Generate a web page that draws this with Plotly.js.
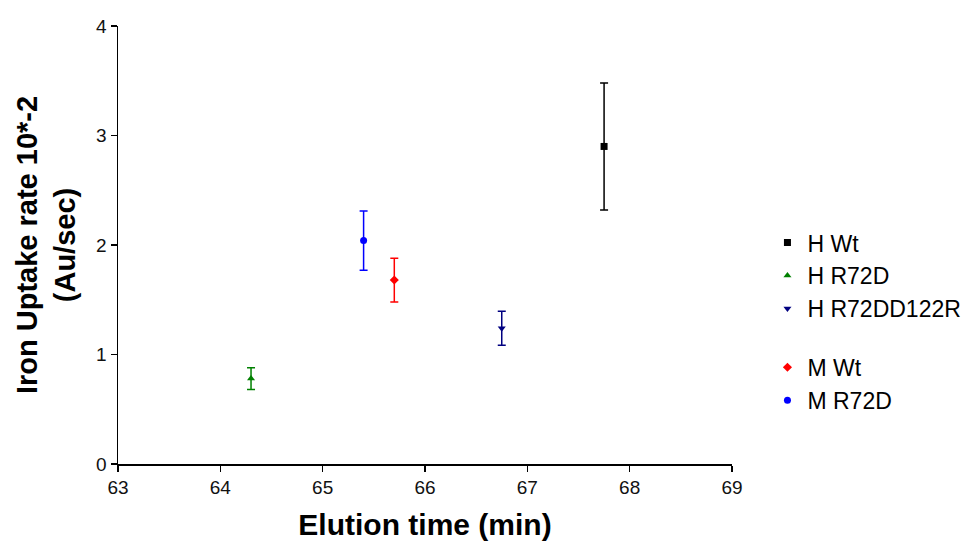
<!DOCTYPE html>
<html>
<head>
<meta charset="utf-8">
<script src="https://cdn.plot.ly/plotly-3.0.1.min.js"></script>
<style>html,body{margin:0;padding:0;background:#fff;}#chart{width:969px;height:546px;}</style>
</head>
<body>
<div id="chart"></div>
<script>
const seriesNames = ["H Wt", "H R72D", "H R72DD122R", "M Wt", "M R72D"];
const elutionTime = [67.75, 64.3, 66.75, 65.7, 65.4];
const uptakeRate = [2.90, 0.78, 1.24, 1.68, 2.04];
const uptakeErr = [0.58, 0.10, 0.155, 0.20, 0.27];
const seriesColors = ["#000000", "#008000", "#000080", "#ff0000", "#0000ff"];
const seriesSymbols = ["square", "triangle-up", "triangle-down", "diamond", "circle"];
const seriesGroups = ["H", "H", "H", "M", "M"];
const xTicks = [63, 64, 65, 66, 67, 68, 69];
const yTicks = [0, 1, 2, 3, 4];

const traces = seriesNames.map((n, i) => ({
  type: "scatter",
  mode: "markers",
  name: n,
  legendgroup: seriesGroups[i],
  x: [elutionTime[i]],
  y: [uptakeRate[i]],
  marker: {color: seriesColors[i], symbol: seriesSymbols[i], size: 7},
  error_y: {type: "data", array: [uptakeErr[i]], visible: true, color: seriesColors[i], thickness: 1.5, width: 4}
}));

const layout = {
  width: 969, height: 546,
  margin: {l: 118, r: 237, t: 26, b: 82},
  paper_bgcolor: "#fff", plot_bgcolor: "#fff",
  font: {family: "Arial, Liberation Sans, sans-serif", color: "#000"},
  xaxis: {
    range: [63, 69], tickvals: xTicks, ticktext: xTicks.map(String),
    showgrid: false, zeroline: false, showline: true, linecolor: "#000", linewidth: 1.5,
    ticks: "outside", ticklen: 6, tickwidth: 1.5, tickcolor: "#000",
    tickfont: {size: 19, color: "#111"},
    title: {text: "<b>Elution time (min)</b>", font: {size: 30, color: "#000"}, standoff: 16}
  },
  yaxis: {
    range: [0, 4], tickvals: yTicks, ticktext: yTicks.map(String),
    showgrid: false, zeroline: false, showline: true, linecolor: "#000", linewidth: 1.5,
    ticks: "outside", ticklen: 6, tickwidth: 1.5, tickcolor: "#000",
    tickfont: {size: 19, color: "#111"},
    title: {text: "<b>Iron Uptake rate 10*-2<br>(Au/sec)</b>", font: {size: 29, color: "#000"}, standoff: 12}
  },
  showlegend: true,
  legend: {
    xref: "container", yref: "container",
    x: 0.792, xanchor: "left", y: 0.595, yanchor: "top",
    font: {size: 23, color: "#000"},
    traceorder: "grouped", tracegroupgap: 26,
    itemwidth: 30, bgcolor: "rgba(0,0,0,0)"
  }
};

Plotly.newPlot("chart", traces, layout, {displayModeBar: false, staticPlot: true});
</script>
</body>
</html>
